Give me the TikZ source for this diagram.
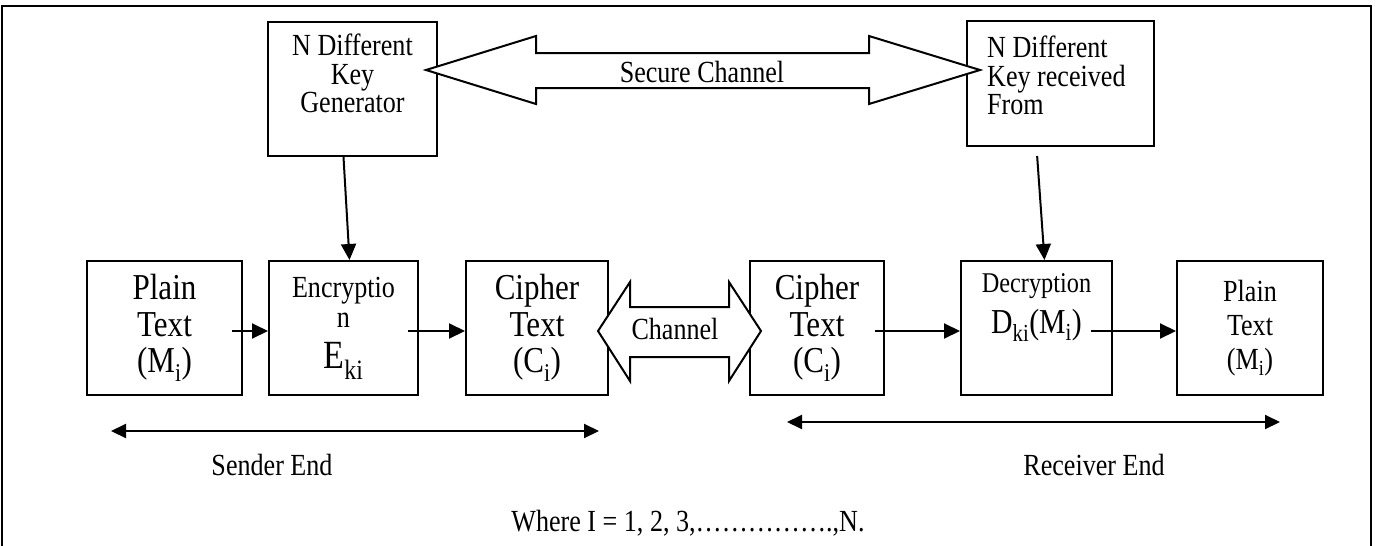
\documentclass[tikz,border=0pt]{standalone}
\usepackage{fontspec}
\setmainfont[FakeStretch=0.85]{Liberation Serif}
\usetikzlibrary{arrows.meta,positioning}

\newcommand{\smalltxt}{\fontsize{30.7}{28.5}\selectfont}
\newcommand{\bigtxt}{\fontsize{36.5}{36.5}\selectfont}

\tikzstyle{box} = [draw, line width=2pt, minimum height=134pt, inner sep=0pt, align=center]
\tikzstyle{flow} = [line width=2pt, -{Triangle[length=16pt,width=15pt]}]
\tikzstyle{span} = [line width=2pt, {Triangle[length=15pt,width=14pt]}-{Triangle[length=15pt,width=14pt]}]
\tikzstyle{fat} = [draw, line width=2pt, fill=white, line join=miter]

\begin{document}
\begin{tikzpicture}[x=1pt,y=-1pt]
	\useasboundingbox (0,0) rectangle (1376,546);
	\draw[line width=2pt] (2,6) rectangle (1371,552);

	% key boxes
	\node[box, minimum width=169pt] (keygen) at (352.5,89) {};
	\node[box, minimum width=187pt, minimum height=125pt] (keyrecv) at (1060.5,83.5) {};
	\node[below=13pt of keygen.north, align=center, font=\smalltxt, inner sep=0pt] (keygentext) {N Different\\Key\\Generator};
	\node[anchor=north west, align=left, font=\smalltxt, inner sep=0pt] (keyrecvtext)
		at ([xshift=21pt,yshift=-16pt]keyrecv.north west) {N Different\\Key received\\From};

	% main row
	\node[box, minimum width=155pt, font=\bigtxt] (plainA) at (164.5,328) {Plain\\Text\\(M\textsubscript{i})};
	\node[box, minimum width=149pt, font=\fontsize{30.7}{30}\selectfont] (encrypt) at (343.5,328)
		{Encryptio\\n\\[11pt]{\fontsize{40}{30}\selectfont E\textsubscript{ki}}};
	\node[box, minimum width=142pt, font=\bigtxt] (cipherA) at (537,328) {Cipher\\Text\\(C\textsubscript{i})};
	\node[box, minimum width=134pt, font=\bigtxt] (cipherB) at (817,328) {Cipher\\Text\\(C\textsubscript{i})};
	\node[box, minimum width=151pt] (decrypt) at (1036.5,328) {};
	\node[below=13pt of decrypt.north, align=center, font=\fontsize{28.6}{41}\selectfont, inner sep=0pt] (decrypttext)
		{Decryption\\{\fontsize{35}{41}\selectfont D\textsubscript{ki}(M\textsubscript{i})}};
	\node[box, minimum width=146pt, font=\fontsize{30.7}{34}\selectfont] (plainB) at (1250,328) {Plain\\Text\\(M\textsubscript{i})};

	% secure channel between the key boxes
	\draw[fat] (426,70) -- (536,36) -- (536,53) -- (869,53) -- (869,36) -- (980,70)
		-- (869,104) -- (869,88) -- (536,88) -- (536,104) -- cycle;
	\node[font=\smalltxt] (securetext) at (702,72) {Secure Channel};

	% open channel between the cipher texts
	\draw[fat] (598,331) -- (630,282) -- (630,307) -- (729,307) -- (729,282) -- (761,331)
		-- (729,381) -- (729,357) -- (630,357) -- (630,381) -- cycle;
	\node[font=\smalltxt] (channeltext) at (675,329) {Channel};

	\draw[flow] ([xshift=-9pt]keygen.south) -- ([xshift=6pt]encrypt.north);
	\draw[flow, shorten <=9pt] ([xshift=-24pt]keyrecv.south) -- ([xshift=8pt]decrypt.north);

	\draw[flow] ([xshift=-11pt,yshift=-3pt]plainA.east) -- ([yshift=-3pt]encrypt.west);
	\draw[flow] ([xshift=-11pt,yshift=-3pt]encrypt.east) -- ([yshift=-3pt]cipherA.west);
	\draw[flow] ([xshift=-10pt,yshift=-3pt]cipherB.east) -- ([yshift=-3pt]decrypt.west);
	\draw[flow] ([xshift=-22pt,yshift=-3pt]decrypt.east) -- ([yshift=-3pt]plainB.west);

	% sender and receiver ends
	\coordinate (sendL) at (111,431);
	\coordinate (sendR) at (599,431);
	\coordinate (recvL) at (787,422);
	\coordinate (recvR) at (1280,422);
	\draw[span] (sendL) -- (sendR);
	\draw[span] (recvL) -- (recvR);
	\node[font=\smalltxt] (sendertext) at (272,465) {Sender End};
	\node[font=\smalltxt] (receivertext) at (1094,465) {Receiver End};

	\node[font=\smalltxt] (note) at (688,523) {Where I = 1, 2, 3,…………….,N.};
\end{tikzpicture}
\end{document}
